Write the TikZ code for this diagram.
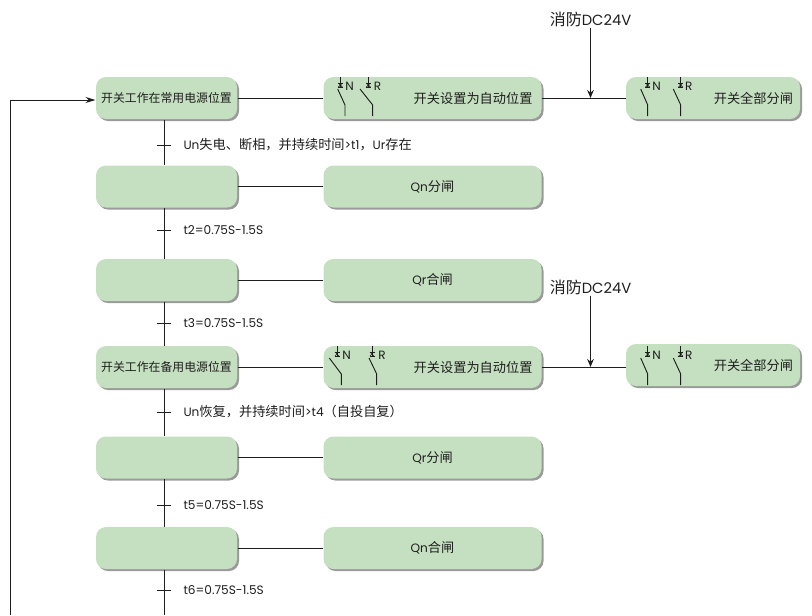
\documentclass[tikz,border=0pt]{standalone}
\usepackage{fontspec}
\setmainfont[Scale=0.92]{Poppins}
\newfontfamily\cjk{Noto Sans CJK SC}
\usetikzlibrary{shadows,arrows.meta}
\definecolor{boxgreen}{HTML}{C5E0C0}
\definecolor{boxshadow}{HTML}{9A9A9A}
\definecolor{inkgray}{HTML}{1E1E1E}
% one pole of the switch: name, top x, top y, blade x, lower x, letter, letter x
\newcommand{\swpole}[7]{
  \coordinate (#1top) at (#2,#3);
  \coordinate (#1bar) at (#2,#3+11);
  \coordinate (#1blade) at (#4,#3+12);
  \coordinate (#1knee) at (#5,#3+28);
  \coordinate (#1end) at (#5,#3+39);
  \draw[line width=0.7pt] (#1top) -- (#1bar);
  \draw[line width=0.6pt] (#2-2.5,#3+6) -- (#2+2.5,#3+6);
  \draw[line width=0.6pt] (#2-2.5,#3+10) -- (#2+2.5,#3+10);
  \draw[line width=0.5pt] (#2-2,#3+6) -- (#2+2,#3+10);
  \draw[line width=0.5pt] (#2+2,#3+6) -- (#2-2,#3+10);
  \draw[line width=0.7pt] (#1blade) -- (#1knee) -- (#1end);
  \node[pole label] (#1t) at (#7,#3+9) {#6};
}
\begin{document}
\begin{tikzpicture}
         [x=0.75pt, y=-0.75pt, line width=0.75pt, inkgray, text=inkgray,
          main node/.style={rectangle,rounded corners=7.5pt,fill=boxgreen,minimum height=31.5pt,inner sep=0pt,
             general shadow={shadow xshift=1.5pt,shadow yshift=-1.5pt,fill=boxshadow},font=\fontsize{9.9pt}{11pt}\selectfont},
         left node/.style={main node,minimum width=105.75pt,text width=105.75pt,align=center,font=\fontsize{8.9pt}{10pt}\selectfont},
         mid node/.style={main node,minimum width=163.5pt,text width=150pt,align=center},
         auto node/.style={main node,minimum width=163.5pt,text width=150pt,align=right},
         off node/.style={main node,minimum width=130.5pt,text width=120pt,align=right},
         step label/.style={anchor=west,inner sep=0pt,font=\fontsize{9.9pt}{11pt}\selectfont},
         fire label/.style={inner sep=0pt,outer sep=1pt,font=\fontsize{12pt}{14pt}\selectfont},
         pole label/.style={inner sep=0pt,font=\fontsize{9.8pt}{11pt}\selectfont},
         node distance=67.5pt]
         \useasboundingbox (0,0) rectangle (812,615);

         \node[left node] (a1) at (166.5,98) {\cjk 开关工作在常用电源位置};
         \node[left node, below of=a1, yshift=1.125pt] (a2) {};
         \node[left node, below of=a2, yshift=-2.625pt] (a3) {};
         \node[left node, below of=a3, yshift=2.25pt] (a4) {\cjk 开关工作在备用电源位置};
         \node[left node, below of=a4, yshift=-0.375pt] (a5) {};
         \node[left node, below of=a5, yshift=-0.375pt] (a6) {};

         \node[auto node, right of=a1, node distance=199.5pt] (m1) {\cjk 开关设置为自动位置};
         \node[mid node, right of=a2, node distance=199.5pt] (m2) {Qn{\cjk 分闸}};
         \node[mid node, right of=a3, node distance=199.5pt] (m3) {Qr{\cjk 合闸}};
         \node[auto node, right of=a4, node distance=199.5pt] (m4) {\cjk 开关设置为自动位置};
         \node[mid node, right of=a5, node distance=199.5pt] (m5) {Qr{\cjk 分闸}};
         \node[mid node, right of=a6, node distance=199.5pt] (m6) {Qn{\cjk 合闸}};

         \node[off node, right of=m1, node distance=210.375pt] (r1) {\cjk 开关全部分闸};
         \node[off node, right of=m4, node distance=210.375pt, yshift=1.5pt] (r4) {\cjk 开关全部分闸};

         \node[fire label] (f1) at (590.5,19) {{\cjk 消防}DC24V};
         \node[fire label] (f4) at (590.5,287) {{\cjk 消防}DC24V};

         \coordinate (trunk) at (164,0);
         \coordinate (j1) at (590.5,98);
         \coordinate (j4) at (590.5,367);
         \coordinate (bottom) at (164,615);
         \coordinate (back) at (10.5,615);

         % horizontal links
         \draw (a1) -- (m1);
         \draw (a2) -- (m2);
         \draw (a3) -- (m3);
         \draw (a4) -- (m4);
         \draw (a5) -- (m5);
         \draw (a6) -- (m6);
         \draw (m1) -- (r1);
         \draw (m4.east) -- (m4.east -| r4.west);

         % main column with its ticks
         \draw (a1.south -| trunk) -- (a2.north -| trunk);
         \draw (a2.south -| trunk) -- (a3.north -| trunk);
         \draw (a3.south -| trunk) -- (a4.north -| trunk);
         \draw (a4.south -| trunk) -- (a5.north -| trunk);
         \draw (a5.south -| trunk) -- (a6.north -| trunk);
         \draw (a6.south -| trunk) -- (bottom);
         \draw (157,145) -- (171,145) node[step label, at end, xshift=9pt] (t1) {Un{\cjk 失电、断相，并持续时间}>t1{\cjk ，}Ur{\cjk 存在}};
         \draw (157,230) -- (171,230) node[step label, at end, xshift=9pt] (t2) {t2=0.75S-1.5S};
         \draw (157,323) -- (171,323) node[step label, at end, xshift=9pt] (t3) {t3=0.75S-1.5S};
         \draw (157,412) -- (171,412) node[step label, at end, xshift=9pt] (t4) {Un{\cjk 恢复，并持续时间}>t4{\cjk （自投自复）}};
         \draw (157,505) -- (171,505) node[step label, at end, xshift=9pt] (t5) {t5=0.75S-1.5S};
         \draw (157,590) -- (171,590) node[step label, at end, xshift=9pt] (t6) {t6=0.75S-1.5S};

         % return line and fire signal
         \draw[-{Stealth[length=7.5pt,width=4.5pt]}] (back) |- ([yshift=-1.5pt]a1.west);
         \draw[-{Stealth[length=6pt,width=5pt]}] (f1) -- (j1);
         \draw[-{Stealth[length=6pt,width=5pt]}] (f4) -- (j4);

         % switch poles
         \swpole{mna}{340.3}{77}{337.7}{345}{N}{349.5}
         \swpole{mra}{368.3}{77}{360}{372.7}{R}{377.5}
         \swpole{rna}{647.7}{77}{640.7}{647.7}{N}{656.7}
         \swpole{rra}{680.7}{77}{673.3}{680.7}{R}{688.7}
         \swpole{mnb}{337}{346}{329.3}{341.3}{N}{346.5}
         \swpole{mrb}{372}{346}{369}{376.7}{R}{382}
         \swpole{rnb}{647.7}{346}{640.7}{647.7}{N}{656.7}
         \swpole{rrb}{680.7}{346}{673.3}{680.7}{R}{688.7}
      \end{tikzpicture}
\end{document}
